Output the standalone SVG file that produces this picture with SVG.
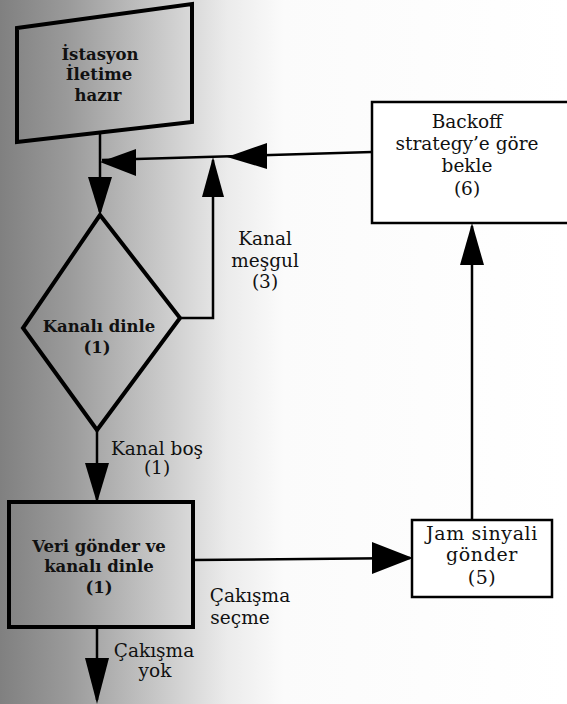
<svg xmlns="http://www.w3.org/2000/svg" width="567" height="704" viewBox="0 0 567 704">
<defs>
<linearGradient id="bg" x1="0" y1="0" x2="567" y2="0" gradientUnits="userSpaceOnUse">
<stop offset="0" stop-color="#808080"/>
<stop offset="0.12" stop-color="#9a9a9a"/>
<stop offset="0.28" stop-color="#c8c8c8"/>
<stop offset="0.40" stop-color="#ebebeb"/>
<stop offset="0.50" stop-color="#fbfbfb"/>
<stop offset="1" stop-color="#ffffff"/>
</linearGradient>
</defs>
<style>
.thick{fill:none;stroke:#000;stroke-width:4;stroke-linejoin:miter}
.box{fill:#fff;stroke:#000;stroke-width:2.5}
.ln{fill:none;stroke:#000;stroke-width:2.5}
.ah{fill:#000;stroke:none}
.b{font-family:"DejaVu Serif","Liberation Serif",serif;font-weight:bold;font-size:16.5px;fill:#111;text-anchor:middle}
.r{font-family:"DejaVu Serif","Liberation Serif",serif;font-size:18.5px;fill:#111;text-anchor:middle}
.j{font-size:19px;letter-spacing:0.6px}
</style>
<rect x="0" y="0" width="567" height="704" fill="url(#bg)"/>

<g id="connectors">
<path class="ln" d="M100,132 L100,212"/>
<polygon class="ah" points="100,216 88,177 112,177"/>
<path class="ln" d="M102,160 L372,152"/>
<polygon class="ah" points="100,162 136,149 136,176"/>
<polygon class="ah" points="227,157 267,143 267,169"/>
<path class="ln" d="M180,318 L213,318 L213,160"/>
<polygon class="ah" points="213,157 202,197 224,197"/>
<path class="ln" d="M97,430 L97,500"/>
<polygon class="ah" points="97,503 85,463 109,463"/>
<path class="ln" d="M193,560 L410,558"/>
<polygon class="ah" points="413,558 372,542 372,574"/>
<path class="ln" d="M472,520 L472,226"/>
<polygon class="ah" points="472,223 460,265 484,265"/>
<path class="ln" d="M97,627 L97,700"/>
<polygon class="ah" points="97,704 85,658 109,658"/>
</g>

<g id="node-istasyon">
<polygon class="thick" points="17,28 192,4 192,122 17,142"/>
<text class="b" x="100" y="60">İstasyon</text>
<text class="b" x="99" y="80">İletime</text>
<text class="b" x="98" y="101">hazır</text>
</g>

<g id="node-kanali-dinle">
<polygon class="thick" points="100,215 180,318 97,430 23,328"/>
<text class="b" x="99" y="332">Kanalı dinle</text>
<text class="b" x="97" y="353">(1)</text>
</g>

<g id="node-veri-gonder">
<rect class="thick" x="9" y="502" width="184" height="125"/>
<text class="b" x="99" y="552">Veri gönder ve</text>
<text class="b" x="99" y="572">kanalı dinle</text>
<text class="b" x="99" y="593">(1)</text>
</g>

<g id="node-backoff">
<rect class="box" x="372" y="102" width="200" height="121"/>
<text class="r" x="467" y="128">Backoff</text>
<text class="r" x="467" y="150">strategy’e göre</text>
<text class="r" x="467" y="172">bekle</text>
<text class="r" x="467" y="195">(6)</text>
</g>

<g id="node-jam">
<rect class="box" x="412" y="520" width="140" height="77"/>
<text class="r j" x="482" y="540">Jam sinyali</text>
<text class="r j" x="482" y="561">gönder</text>
<text class="r j" x="482" y="584">(5)</text>
</g>

<g id="labels">
<text class="r" x="265" y="245">Kanal</text>
<text class="r" x="265" y="267">meşgul</text>
<text class="r" x="265" y="288">(3)</text>
<text class="r" x="157" y="455">Kanal boş</text>
<text class="r" x="157" y="474">(1)</text>
<text class="r" x="250" y="602">Çakışma</text>
<text class="r" x="240" y="624">seçme</text>
<text class="r" x="154" y="657">Çakışma</text>
<text class="r" x="155" y="677">yok</text>
</g>
</svg>
